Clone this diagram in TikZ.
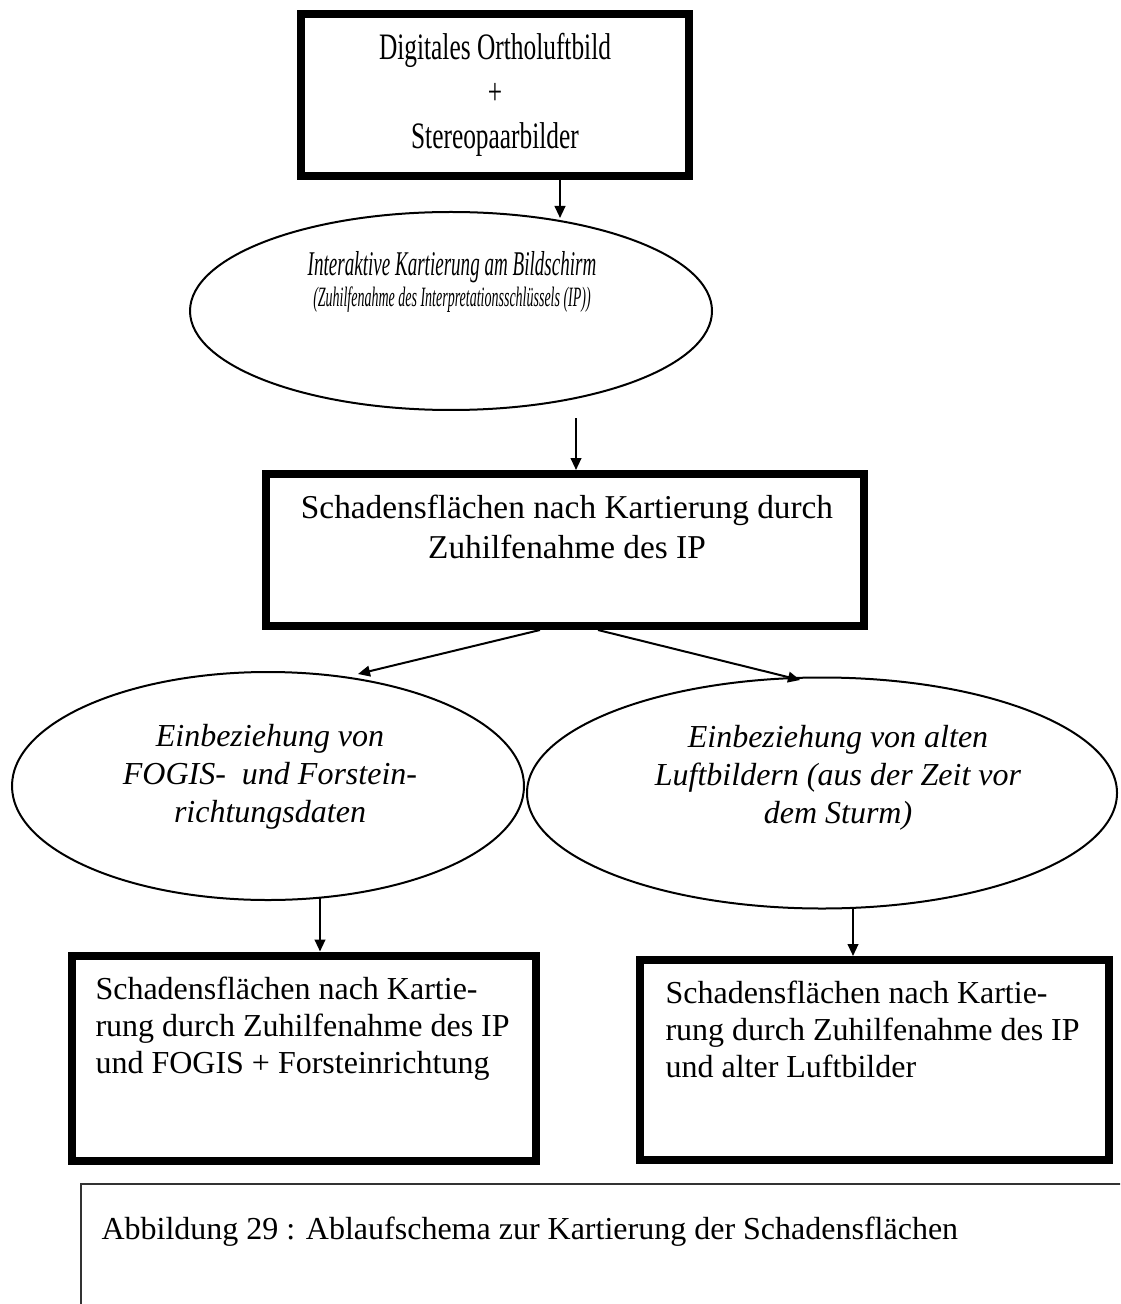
\documentclass[tikz,border=0pt]{standalone}
\usepackage{fontspec}
\setmainfont{Liberation Serif}
\newfontfamily\narrowfont{Liberation Serif}[FakeStretch=0.68]
\newfontfamily\narrowit{Liberation Serif Italic}[FakeStretch=0.55]
\newfontfamily\narrowsmall{Liberation Serif Italic}[FakeStretch=0.5]
\usetikzlibrary{shapes.geometric,arrows.meta}
\newcommand{\pu}{0.375pt}
\begin{document}
\begin{tikzpicture}[x=\pu, y=-\pu,
  box/.style={draw, line width=3pt, inner sep=0pt},
  oval/.style={draw, ellipse, line width=0.75pt, inner sep=0pt},
  txt/.style={inner sep=0pt, align=center, font=\fontsize{12}{14.25}\selectfont},
  arr/.style={-{Triangle[length=4.5pt,width=4pt]}, line width=0.75pt}]

  \useasboundingbox (0,0) rectangle (1120,1304);
  \clip (0,0) rectangle (1120,1304);

  % Boxes
  \node[box, minimum width=388*\pu, minimum height=162*\pu] (bild) at (495,95) {};
  \node[box, minimum width=598*\pu, minimum height=152*\pu] (ip) at (565,550) {};
  \node[box, minimum width=464*\pu, minimum height=205*\pu] (fogis) at (304,1058) {};
  \node[box, minimum width=469*\pu, minimum height=200*\pu] (luft) at (874,1060) {};

  % Ellipses
  \node[oval, minimum width=522*\pu, minimum height=198*\pu] (karte) at (451,311) {};
  \node[oval, minimum width=512*\pu, minimum height=228*\pu] (einL) at (268,786) {};
  \node[oval, minimum width=590*\pu, minimum height=231*\pu] (einR) at (822,793) {};

  % Texts
  \node[txt, font=\fontsize{14}{16.7}\selectfont\narrowfont] (bildT) at (bild) {Digitales Ortholuftbild\\+\\Stereopaarbilder};
  \node[txt, font=\fontsize{13}{11.5}\selectfont\narrowit] (karteT) at (452,282)
    {Interaktive Kartierung am Bildschirm\\{\fontsize{10.5}{11}\selectfont\narrowsmall(Zuhilfenahme des Interpretationsschlüssels (IP))}};
  \node[txt, font=\fontsize{12.5}{15}\selectfont] (ipT) at (567,527) {Schadensflächen nach Kartierung durch\\Zuhilfenahme des IP};
  \node[txt, font=\fontsize{12}{14.25}\selectfont\itshape] (einLT) at (270,777) {Einbeziehung von\\FOGIS-\ \ und Forstein-\\richtungsdaten};
  \node[txt, font=\fontsize{12}{14.25}\selectfont\itshape] (einRT) at (838,778) {Einbeziehung von alten\\Luftbildern (aus der Zeit vor\\dem Sturm)};
  \node[txt, align=left, anchor=north west, font=\fontsize{12}{14}\selectfont] (fogisT) at (95,976)
    {Schadensflächen nach Kartie-\\rung durch Zuhilfenahme des IP\\und FOGIS + Forsteinrichtung};
  \node[txt, align=left, anchor=north west, font=\fontsize{12}{14}\selectfont] (luftT) at (665,980)
    {Schadensflächen nach Kartie-\\rung durch Zuhilfenahme des IP\\und alter Luftbilder};

  % Caption
  \node[draw=black!80, line width=0.6pt, anchor=north west, minimum width=1100*\pu, minimum height=200*\pu] (cap) at (80,1183) {};
  \node[txt, anchor=base west] (capT) at (101,1239) {Abbildung 29 : Ablaufschema zur Kartierung der Schadensflächen};

  % Arrow ends
  \coordinate (t1) at (560,218);
  \coordinate (s2) at (576,418);
  \coordinate (tL) at (358,674);
  \coordinate (tR) at (800,680);
  \coordinate (sL) at (320,897);
  \coordinate (sR) at (853,909);

  % Arrows
  \draw[arr] (bild.south -| t1) -- (t1);
  \draw[arr] (s2) -- (s2 |- ip.north);
  \draw[arr] ([xshift=-25*\pu]ip.south) -- (tL);
  \draw[arr] ([xshift=33*\pu]ip.south) -- (tR);
  \draw[arr] (sL) -- (sL |- fogis.north);
  \draw[arr] (sR) -- (sR |- luft.north);

\end{tikzpicture}
\end{document}
